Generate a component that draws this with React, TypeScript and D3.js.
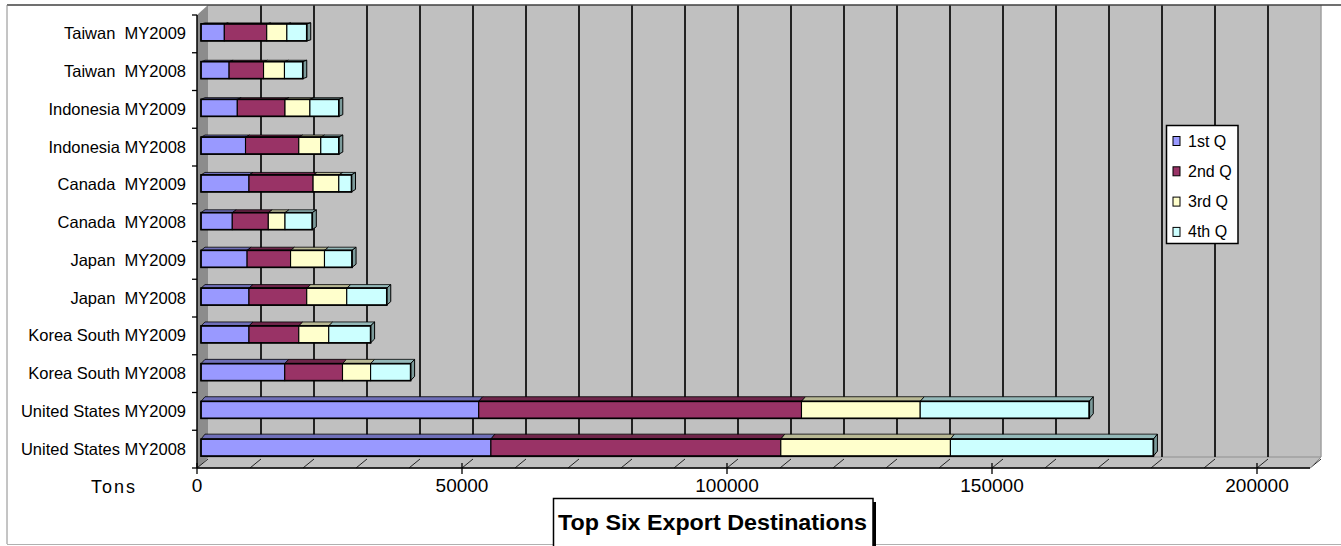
import React from "react";
import * as d3 from "d3";

const categories = [
  "Taiwan  MY2009",
  "Taiwan  MY2008",
  "Indonesia MY2009",
  "Indonesia MY2008",
  "Canada  MY2009",
  "Canada  MY2008",
  "Japan  MY2009",
  "Japan  MY2008",
  "Korea South MY2009",
  "Korea South MY2008",
  "United States MY2009",
  "United States MY2008",
];
const q1 = [4400, 5300, 6850, 8400, 9050, 5900, 8700, 9050, 9050, 15800, 52400, 54700];
const q2 = [8000, 6500, 9000, 10050, 12100, 6800, 8200, 10900, 9400, 10900, 60900, 54700];
const q3 = [3800, 3950, 4700, 4150, 4850, 3150, 6400, 7550, 5650, 5300, 22400, 32000];
const q4 = [3750, 3450, 5450, 3400, 2400, 5150, 5200, 7550, 7900, 7550, 31900, 38300];
const seriesNames = ["1st Q", "2nd Q", "3rd Q", "4th Q"];
const seriesColors = ["#9999FF", "#993366", "#FFFFCC", "#CCFFFF"];
const xTickLabels = [0, 50000, 100000, 150000, 200000];
const gridStep = 10000;
const xMax = 210000;
const axisTitle = "Tons";
const chartTitle = "Top Six Export Destinations";

const W = 1341;
const H = 546;

export default function App() {
  const x = d3.scaleLinear().domain([0, xMax]).range([197, 1310]);
  const y = d3.scaleBand<string>().domain(categories).range([15, 468]);
  const DX = 11;
  const DY = -11;
  const frontBottom = 468;
  const backBottom = frontBottom + DY;
  const backTop = 5;

  const rows = categories.map((c, i) => ({ cat: c, i, "1st Q": q1[i], "2nd Q": q2[i], "3rd Q": q3[i], "4th Q": q4[i] }));
  const stacked = d3.stack<any>().keys(seriesNames)(rows);

  const gridVals = d3.range(0, xMax + 1, gridStep);

  const barOff = 4;
  const barH = 17;

  return (
    <svg width={W} height={H} style={{ position: "absolute", left: 0, top: 0, background: "#fff" }} fontFamily="Arial, 'Liberation Sans', sans-serif">
      {/* back wall */}
      <rect x={x(0) + DX} y={backTop} width={x(xMax) - x(0)} height={backBottom - backTop} fill="#C0C0C0" />
      <line x1={x(xMax) + DX} x2={x(xMax) + DX} y1={backTop} y2={backBottom} stroke="#A0A0A0" strokeWidth={1.5} />
      {/* side wall */}
      <polygon
        points={`${x(0)},${15} ${x(0) + DX},${Math.max(backTop, 15 + DY)} ${x(0) + DX},${backBottom} ${x(0)},${frontBottom}`}
        fill="#8C8C8C"
      />
      {/* floor */}
      <polygon
        points={`${x(0)},${frontBottom} ${x(0) + DX},${backBottom} ${x(xMax) + DX},${backBottom} ${x(xMax)},${frontBottom}`}
        fill="#C0C0C0"
        stroke="#909090"
        strokeWidth={1}
      />
      {/* gridlines on back wall */}
      {gridVals.slice(1, -1).map((v) => (
        <line key={"g" + v} x1={x(v) + DX} x2={x(v) + DX} y1={backTop} y2={backBottom} stroke="#222" strokeWidth={2} />
      ))}
      {/* floor gridlines */}
      {gridVals.map((v) => (
        <line key={"f" + v} x1={x(v) + DX} x2={x(v)} y1={backBottom + 2} y2={frontBottom} stroke="#222" strokeWidth={1} />
      ))}
      {/* outer border */}
      <line x1={7} x2={W} y1={5} y2={5} stroke="#404040" strokeWidth={1.5} />
      <line x1={7} x2={7} y1={5} y2={544} stroke="#8A8A8A" strokeWidth={1} />
      <line x1={7} x2={W} y1={544.5} y2={544.5} stroke="#B0B0B0" strokeWidth={1} />

      {/* bars */}
      {categories.map((c, i) => {
        const cy = (y(c) as number) + y.bandwidth() / 2 - 1.5;
        const top = cy - barH / 2;
        const ddx = 4;
        const ddy = -1 - (i / (categories.length - 1)) * 4;
        const lastIdx = seriesNames.length - 1;
        const xe = x(stacked[lastIdx][i][1]) + barOff;
        return (
          <g key={c}>
            {stacked.map((s, k) => {
              const x0 = x(s[i][0]) + barOff;
              const x1 = x(s[i][1]) + barOff;
              const col = seriesColors[k];
              return (
                <g key={k}>
                  <polygon
                    points={`${x0},${top} ${x1},${top} ${x1 + ddx},${top + ddy} ${x0 + ddx},${top + ddy}`}
                    fill={d3.color(col)!.darker(0.9).formatHex()}
                    stroke="#000"
                    strokeWidth={0.8}
                  />
                  <rect x={x0} y={top} width={x1 - x0} height={barH} fill={col} stroke="#000" strokeWidth={1.1} />
                </g>
              );
            })}
            <polygon
              points={`${xe},${top} ${xe + ddx},${top + ddy} ${xe + ddx},${top + barH + ddy} ${xe},${top + barH}`}
              fill={d3.color(seriesColors[lastIdx])!.darker(1.4).formatHex()}
              stroke="#000"
              strokeWidth={1}
            />
            <rect x={x(0) + barOff} y={top} width={xe - x(0) - barOff} height={barH} fill="none" stroke="#000" strokeWidth={1.6} />
          </g>
        );
      })}

      {/* left axis */}
      <line x1={x(0)} x2={x(0)} y1={15} y2={frontBottom} stroke="#000" strokeWidth={1.5} />
      {[...categories.map((c) => y(c) as number), frontBottom].map((v, k) => (
        <line key={"lt" + k} x1={x(0) - 5} x2={x(0)} y1={v} y2={v} stroke="#000" strokeWidth={1.3} />
      ))}
      {categories.map((c) => (
        <text
          key={"lbl" + c}
          x={186}
          y={(y(c) as number) + y.bandwidth() / 2 + 5.5}
          textAnchor="end"
          fontSize={16.5}
          fill="#000"
          style={{ whiteSpace: "pre" }}
        >
          {c}
        </text>
      ))}

      {/* bottom axis */}
      <line x1={x(0)} x2={x(xMax)} y1={frontBottom} y2={frontBottom} stroke="#000" strokeWidth={1.5} />
      <line x1={x(xMax)} x2={x(xMax) + DX} y1={frontBottom} y2={backBottom} stroke="#909090" strokeWidth={1} />
      {xTickLabels.map((v) => (
        <g key={"xt" + v}>
          <line x1={x(v)} x2={x(v)} y1={frontBottom - 5} y2={frontBottom + 6} stroke="#000" strokeWidth={1.3} />
          <text x={x(v)} y={492} textAnchor="middle" fontSize={19} fill="#000">
            {v}
          </text>
        </g>
      ))}
      <text x={91} y={493} fontSize={18} letterSpacing={2} fill="#000">
        {axisTitle}
      </text>

      {/* legend */}
      <rect x={1166.5} y={125.5} width={71.5} height={118} fill="#fff" stroke="#000" strokeWidth={1.5} />
      {seriesNames.map((s, k) => {
        const cy = 141 + k * 30.3;
        return (
          <g key={"lg" + s}>
            <rect x={1173} y={cy - 4.5} width={7} height={9} fill={seriesColors[k]} stroke="#000" strokeWidth={1} />
            <text x={1188} y={cy + 5.5} fontSize={16} fill="#000">
              {s}
            </text>
          </g>
        );
      })}

      {/* title */}
      <rect x={873} y={502} width={3} height={50} fill="#000" />
      <rect x={553.5} y={498.5} width={319.5} height={60} fill="#fff" stroke="#000" strokeWidth={1.5} />
      <text x={558} y={530} fontSize={22} fontWeight="bold" fill="#000" textLength={309} lengthAdjust="spacingAndGlyphs">
        {chartTitle}
      </text>
    </svg>
  );
}
